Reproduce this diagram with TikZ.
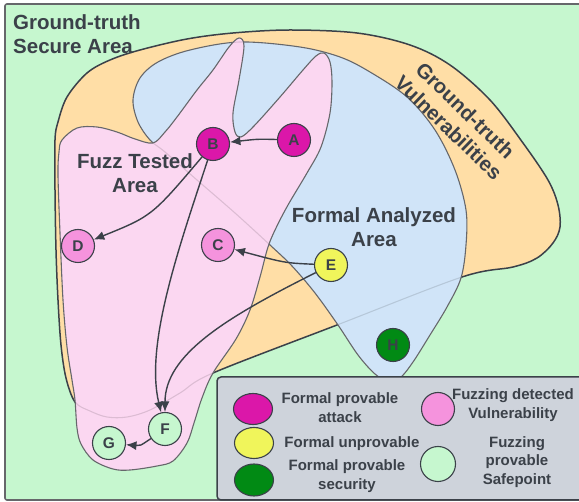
\documentclass[tikz,border=0pt]{standalone}
\usepackage{fontspec}
\setmainfont{Liberation Sans}
\usetikzlibrary{arrows.meta,shapes.geometric}

\definecolor{bggreen}{HTML}{C6F7CF}
\definecolor{vulnorange}{HTML}{FFDEA6}
\definecolor{formalblue}{HTML}{D0E4F8}
\definecolor{fuzzpink}{HTML}{FBD7F1}
\definecolor{ink}{HTML}{3B4149}
\definecolor{edgegray}{HTML}{66676B}
\definecolor{attackmag}{HTML}{DB17A9}
\definecolor{vulnpink}{HTML}{F593DD}
\definecolor{unprovyellow}{HTML}{F0F55B}
\definecolor{securegreen}{HTML}{018A14}
\definecolor{safegreen}{HTML}{C6F7CF}
\definecolor{legendgray}{HTML}{CED3DB}

% outlines of the three areas
\newcommand{\vulnshape}{plot[smooth cycle, tension=0.55] coordinates {
  (75,402) (66,378) (61,345) (58,300) (56,250) (55,190) (55,140) (58,122)
  (67,97) (87,73) (110,60) (140,50) (187,39) (233,33) (290,30) (357,33)
  (410,45) (450,65) (490,100) (523,143) (548,180) (558,205) (560,227)
  (553,243) (537,258) (513,267) (462,277) (337,325) (213,373)
  (180,393) (150,410) (127,417) (107,417) (90,411)}}
\newcommand{\formalshape}{plot[smooth cycle, tension=0.55] coordinates {
  (133,100) (140,78) (158,62) (190,50) (240,42) (300,47) (340,57) (370,72)
  (407,97) (435,130) (455,170) (466,210) (466,245) (461,278) (447,307)
  (430,335) (413,362) (400,378) (388,381) (375,374) (358,355) (338,325)
  (315,293) (292,266) (270,245) (235,213) (197,180) (165,152) (150,140)
  (138,122)}}
\newcommand{\fuzzshape}{plot[smooth cycle, tension=0.55] coordinates {
  (62,140) (77,128) (97,127) (117,132) (135,139) (153,143) (165,132)
  (177,117) (197,90) (213,70) (229,47) (239,38) (244,46) (239,80)
  (233,113) (235,132) (241,137) (254,126) (280,97) (303,70) (316,56)
  (324,53) (330,62) (332,82) (330,113) (321,147) (307,173) (288,205)
  (276,228) (268,247) (260,277) (250,310) (236,339) (213,373) (202,398)
  (194,423) (187,443) (173,461) (157,466) (130,470) (113,469) (93,460)
  (81,444) (77,428) (75,400) (72,380) (67,347) (63,300) (60,233) (58,175)
  (59,152)}}

\tikzset{
  spot/.style={circle, draw=ink, line width=1.1pt, minimum size=33pt,
    inner sep=0pt, font=\fontsize{15.5}{15.5}\selectfont\bfseries, text=ink},
  link/.style={draw=ink, line width=1.4pt, -{Latex[length=10.5pt,width=9pt]}},
  key/.style={ellipse, draw=ink, line width=1.1pt, minimum width=39pt,
    minimum height=31pt, inner sep=0pt},
  keytext/.style={align=center, font=\fontsize{15}{18.3}\selectfont\bfseries,
    text=ink, inner sep=0pt},
  bigtext/.style={font=\fontsize{20.5}{24}\selectfont\bfseries, text=ink,
    inner sep=0pt},
  faint/.style={draw=black, draw opacity=0.12, line width=1.1pt}
}

\begin{document}
\begin{tikzpicture}[x=1pt, y=-1pt]
\useasboundingbox (0,0) rectangle (579,502);

% secure area background
\draw[fill=bggreen, draw=edgegray, line width=1.6pt, rounded corners=2pt]
  (5,4) rectangle (590,500);

% ground-truth vulnerabilities
\draw[fill=vulnorange, draw=ink, line width=1.5pt] \vulnshape;

% formal analyzed area
\draw[fill=formalblue, draw=edgegray, line width=1.1pt] \formalshape;
\begin{scope}
  \clip \formalshape;
  \draw[faint] \vulnshape;
\end{scope}

% fuzz tested area
\fill[fuzzpink] \fuzzshape;
\begin{scope}
  \clip \fuzzshape;
  \draw[faint] \vulnshape;
  \draw[faint] \formalshape;
\end{scope}
\draw[draw=edgegray, line width=1.1pt] \fuzzshape;

% area labels
\node[bigtext, align=left, anchor=west] (securelbl) at (13,34) {Ground-truth\\Secure Area};
\node[bigtext, align=center] (fuzzlbl) at (135,173) {Fuzz Tested\\Area};
\node[bigtext, align=center] (formallbl) at (374,227) {Formal Analyzed\\Area};
\node[bigtext, align=center, rotate=-44] (vulnlbl) at (457,119) {Ground-truth\\Vulnerabilities};

% points
\node[spot, fill=attackmag] (A) at (294,140) {A};
\node[spot, fill=attackmag] (B) at (213,144) {B};
\node[spot, fill=vulnpink] (D) at (78,246) {D};
\node[spot, fill=vulnpink] (C) at (218,245) {C};
\node[spot, fill=unprovyellow] (E) at (331,265) {E};
\node[spot, fill=securegreen] (H) at (393,345) {H};
\node[spot, fill=safegreen] (F) at (165,429) {F};
\node[spot, fill=safegreen] (G) at (109,443) {G};

% connectors
\draw[link] (A) .. controls (258,139) .. (B);
\draw[link] (B) .. controls (152,216) .. (D);
\draw[link] (B) .. controls (178,250) and (145,345) .. (F);
\draw[link] (E) .. controls (285,263) .. (C);
\draw[link] (E) .. controls (225,318) and (165,355) .. (F);
\draw[link] (F) .. controls (140,446) .. (G);

% legend
\draw[fill=legendgray, draw=ink, line width=1.5pt, rounded corners=4pt]
  (217,377) rectangle (595,500);
\node[key, fill=attackmag] (k1) at (253,409) {};
\node[keytext] (t1) at (340,407.5) {Formal provable\\attack};
\node[key, fill=unprovyellow] (k2) at (254,443) {};
\node[keytext, anchor=base] (t2) at (352,448) {Formal unprovable};
\node[key, fill=securegreen, minimum height=32pt] (k3) at (254,480) {};
\node[keytext] (t3) at (347,476) {Formal provable\\security};
\node[spot, fill=vulnpink] (k4) at (438,409) {};
\node[keytext] (t4) at (513,405) {Fuzzing detected\\Vulnerability};
\node[spot, fill=safegreen, minimum width=35pt] (k5) at (438,464) {};
\node[keytext] (t5) at (517,462) {Fuzzing\\provable\\Safepoint};
\end{tikzpicture}
\end{document}
